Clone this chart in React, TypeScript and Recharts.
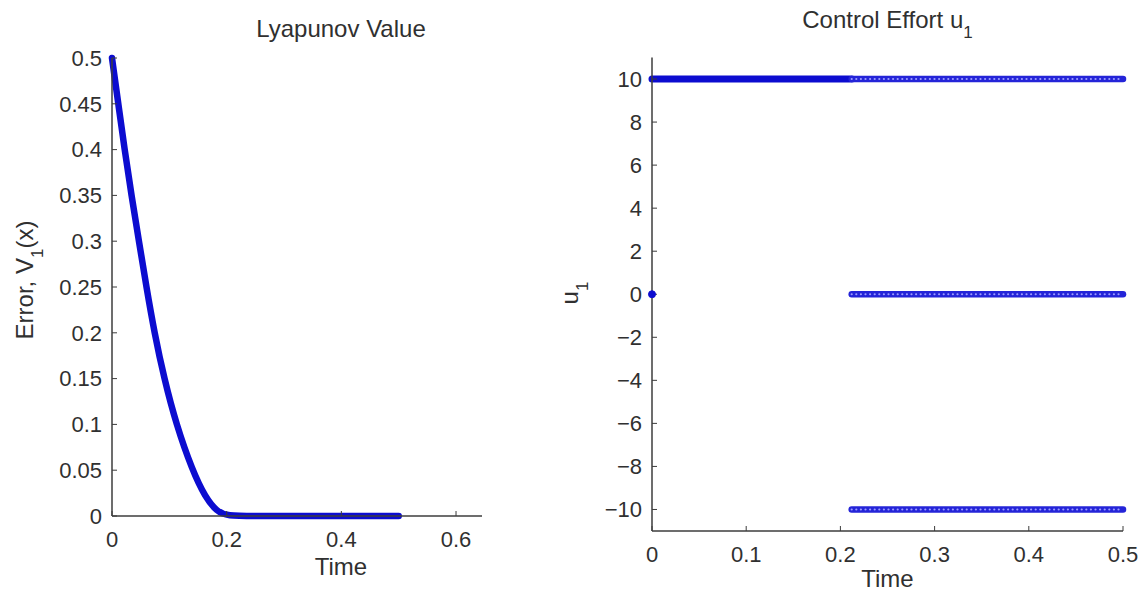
import { ComposedChart, Line, XAxis, YAxis, Label } from "recharts";

const FONT = "'Liberation Sans', Arial, Helvetica, sans-serif";
const INK = "#303030";
const AXIS = "#3c3c3c";
const BLUE = "#0c0cd0";
const SPECK = "#9c9cff";

// Lyapunov value V1 over time
const lyapTime = [0, 0.011, 0.022, 0.034, 0.047, 0.06, 0.074, 0.091, 0.112, 0.14, 0.163, 0.183, 0.2, 0.25, 0.3, 0.4, 0.5];
const lyapValue = [0.5, 0.45, 0.4, 0.35, 0.3, 0.25, 0.2, 0.15, 0.1, 0.05, 0.02, 0.005, 0, 0, 0, 0, 0];
const lyapXTicks = [0, 0.2, 0.4, 0.6];
const lyapYTicks = [0, 0.05, 0.1, 0.15, 0.2, 0.25, 0.3, 0.35, 0.4, 0.45, 0.5];

// control effort u1: saturated until the switch, then chattering between three levels
const uDenseTime = [0, 0.212];
const uChatterTime = [0.212, 0.5];
const uLevels = [10, 0, -10];
const uInitTime = [0];
const uInitValue = [0];
const uXTicks = [0, 0.1, 0.2, 0.3, 0.4, 0.5];
const uYTicks = [-10, -8, -6, -4, -2, 0, 2, 4, 6, 8, 10];

const lyapData = lyapTime.map((t, i) => ({ t, v: lyapValue[i] }));
const denseData = uDenseTime.map((t) => ({ t, u: uLevels[0] }));
const chatterData = uLevels.map((lvl) => uChatterTime.map((t) => ({ t, u: lvl })));
const initData = uInitTime.map((t, i) => ({ t, u: uInitValue[i] }));

const tickStyle = { fill: INK, fontSize: 22, fontFamily: FONT };
const fmt = (v: number) => String(v).replace("-", "\u2212");

interface CaptionProps {
  x: number;
  y: number;
  main: string;
  sub?: string;
  tail?: string;
  size?: number;
  rotate?: boolean;
}

function Caption({ x, y, main, sub, tail, size = 24, rotate }: CaptionProps) {
  const subSize = Math.round(size * 0.7);
  return (
    <text
      x={x}
      y={y}
      textAnchor="middle"
      fill={INK}
      fontSize={size}
      fontFamily={FONT}
      transform={rotate ? `rotate(-90 ${x} ${y})` : undefined}
    >
      <tspan>{main}</tspan>
      {sub && (
        <tspan dy={10} fontSize={subSize}>
          {sub}
        </tspan>
      )}
      {tail && <tspan dy={-10}>{tail}</tspan>}
    </text>
  );
}

function LyapunovPlot() {
  return (
    <div style={{ position: "absolute", left: 0, top: 0, width: 482, height: 596, overflow: "hidden" }}>
      <ComposedChart width={620} height={596} margin={{ top: 58, right: 49.3, bottom: 0, left: 0 }}>
        <XAxis
          type="number"
          dataKey="t"
          domain={[0, 0.8]}
          ticks={lyapXTicks}
          height={80}
          axisLine={{ stroke: AXIS, strokeWidth: 1.5 }}
          tickLine={{ stroke: AXIS }}
          tickSize={-5}
          tickMargin={20}
          tick={tickStyle}
        >
          <Label content={() => <Caption x={341} y={575} main="Time" />} />
        </XAxis>
        <YAxis
          type="number"
          domain={[0, 0.5]}
          ticks={lyapYTicks}
          width={112}
          axisLine={{ stroke: AXIS, strokeWidth: 1.5 }}
          tickLine={{ stroke: AXIS }}
          tickSize={-5}
          tickMargin={15}
          tick={tickStyle}
        >
          <Label content={() => <Caption x={33} y={280} main="Error, V" sub="1" tail="(x)" rotate />} />
          <Label content={() => <Caption x={341} y={37} main="Lyapunov Value" />} />
        </YAxis>
        <Line
          data={lyapData}
          dataKey="v"
          type="basis"
          stroke={BLUE}
          strokeWidth={6.5}
          strokeLinecap="round"
          dot={false}
          isAnimationActive={false}
        />
      </ComposedChart>
    </div>
  );
}

function ControlPlot() {
  return (
    <div style={{ position: "absolute", left: 540, top: 0, width: 608, height: 596 }}>
      <ComposedChart width={608} height={596} margin={{ top: 57.5, right: 25, bottom: 0, left: 0 }}>
        <XAxis
          type="number"
          dataKey="t"
          domain={[0, 0.5]}
          ticks={uXTicks}
          height={65}
          axisLine={{ stroke: AXIS, strokeWidth: 1.5 }}
          tickLine={{ stroke: AXIS }}
          tickSize={-5}
          tickMargin={20}
          tick={tickStyle}
        >
          <Label content={() => <Caption x={347.5} y={587} main="Time" />} />
        </XAxis>
        <YAxis
          type="number"
          domain={[-11, 11]}
          ticks={uYTicks}
          tickFormatter={fmt}
          width={112}
          axisLine={{ stroke: AXIS, strokeWidth: 1.5 }}
          tickLine={{ stroke: AXIS }}
          tickSize={-5}
          tickMargin={15}
          tick={tickStyle}
        >
          <Label content={() => <Caption x={38} y={293} main="u" sub="1" rotate />} />
          <Label content={() => <Caption x={347.5} y={28} main="Control Effort u" sub="1" />} />
        </YAxis>
        <Line
          data={denseData}
          dataKey="u"
          stroke={BLUE}
          strokeWidth={7}
          strokeLinecap="round"
          dot={false}
          isAnimationActive={false}
        />
        {chatterData.map((d, i) => (
          <Line
            key={`c${i}`}
            data={d}
            dataKey="u"
            stroke="#2424d8"
            strokeWidth={6.5}
            strokeLinecap="round"
            dot={false}
            isAnimationActive={false}
          />
        ))}
        {chatterData.map((d, i) => (
          <Line
            key={`s${i}`}
            data={d}
            dataKey="u"
            stroke={SPECK}
            strokeWidth={2.2}
            strokeDasharray="0 4.6"
            strokeLinecap="round"
            dot={false}
            isAnimationActive={false}
          />
        ))}
        <Line
          data={initData}
          dataKey="u"
          stroke={BLUE}
          dot={{ r: 3.5, fill: BLUE, stroke: BLUE }}
          isAnimationActive={false}
        />
      </ComposedChart>
    </div>
  );
}

export default function App() {
  return (
    <div style={{ position: "absolute", left: 0, top: 0, width: 1148, height: 596, background: "#fff" }}>
      <LyapunovPlot />
      <ControlPlot />
    </div>
  );
}
